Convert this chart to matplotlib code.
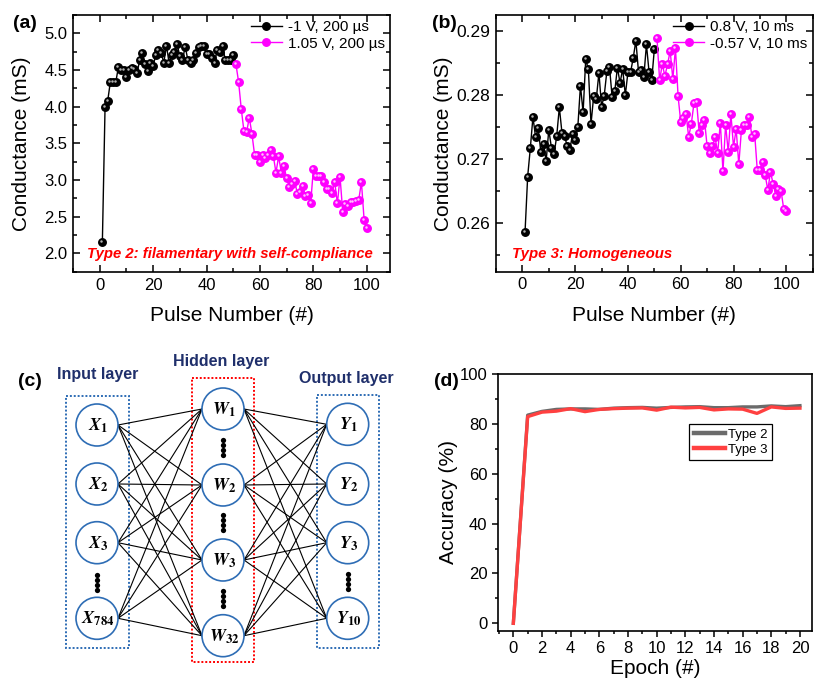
import numpy as np
import matplotlib
matplotlib.use("Agg")
import matplotlib.pyplot as plt
from matplotlib.patches import Circle, Rectangle
from matplotlib.ticker import MultipleLocator, FormatStrFormatter
from matplotlib.transforms import offset_copy

plt.rcParams['font.family'] = ['Liberation Sans', 'DejaVu Sans']
plt.rcParams['mathtext.fontset'] = 'stix'

# ---------------- data ----------------
# (a) Type 2
a_pot_x = list(range(1, 51))
a_pot_y = [2.16, 3.99, 4.08, 4.34, 4.34, 4.33, 4.54, 4.50, 4.50, 4.41,
           4.50, 4.53, 4.51, 4.46, 4.64, 4.73, 4.58, 4.49, 4.60, 4.55,
           4.71, 4.77, 4.73, 4.60, 4.83, 4.59, 4.70, 4.75, 4.85, 4.69,
           4.63, 4.82, 4.64, 4.59, 4.64, 4.73, 4.82, 4.83, 4.83, 4.72,
           4.72, 4.67, 4.60, 4.77, 4.75, 4.83, 4.64, 4.63, 4.64, 4.70]
a_dep_x = list(range(51, 101))
a_dep_y = [4.58, 4.34, 3.97, 3.67, 3.65, 3.85, 3.63, 3.34, 3.34, 3.25,
           3.34, 3.30, 3.34, 3.41, 3.33, 3.10, 3.32, 3.10, 3.19, 3.02,
           2.91, 2.95, 2.99, 2.81, 2.83, 2.92, 2.78, 2.80, 2.68, 3.15,
           3.05, 3.05, 3.05, 2.97, 2.87, 2.87, 2.82, 2.97, 2.68, 3.04,
           2.56, 2.67, 2.65, 2.70, 2.70, 2.71, 2.73, 2.97, 2.46, 2.35]
a_labels = ['-1 V, 200 \u00b5s', '1.05 V, 200 \u00b5s']

# (b) Type 3
b_pot_x = list(range(1, 51))
b_pot_y = [0.2586, 0.2673, 0.2717, 0.2766, 0.2734, 0.2748, 0.2711, 0.2724, 0.2697, 0.2746,
           0.2718, 0.2708, 0.2736, 0.2781, 0.2741, 0.2736, 0.2720, 0.2715, 0.2740, 0.2730,
           0.2750, 0.2815, 0.2773, 0.2856, 0.2840, 0.2755, 0.2798, 0.2794, 0.2835, 0.2782,
           0.2799, 0.2837, 0.2844, 0.2797, 0.2806, 0.2843, 0.2819, 0.2841, 0.2800, 0.2836,
           0.2836, 0.2858, 0.2885, 0.2836, 0.2839, 0.2828, 0.2879, 0.2836, 0.2823, 0.2872]
b_dep_x = list(range(51, 101))
b_dep_y = [0.2889, 0.2823, 0.2848, 0.2830, 0.2848, 0.2869, 0.2825, 0.2873, 0.2798, 0.2758,
           0.2765, 0.2771, 0.2735, 0.2755, 0.2787, 0.2790, 0.2741, 0.2754, 0.2761, 0.2720,
           0.2710, 0.2720, 0.2734, 0.2710, 0.2757, 0.2681, 0.2754, 0.2711, 0.2771, 0.2719,
           0.2747, 0.2692, 0.2746, 0.2753, 0.2753, 0.2766, 0.2734, 0.2740, 0.2683, 0.2683,
           0.2695, 0.2675, 0.2652, 0.2680, 0.2662, 0.2643, 0.2653, 0.2651, 0.2623, 0.2619]
b_labels = ['0.8 V, 10 ms', '-0.57 V, 10 ms']

# (d) accuracy
epochs = list(range(0, 21))
acc_type2 = [0.0, 83.5, 85.0, 85.8, 86.0, 86.0, 85.8, 86.3, 86.5, 86.6, 86.3,
             86.6, 86.8, 86.9, 86.5, 86.5, 86.8, 86.8, 87.2, 86.9, 87.3]
acc_type3 = [0.0, 82.9, 84.7, 85.1, 86.1, 84.9, 85.8, 86.1, 86.3, 86.4, 85.5,
             86.7, 86.4, 86.6, 85.6, 86.0, 85.9, 84.2, 86.8, 86.2, 86.3]
d_labels = ['Type 2', 'Type 3']

# (c) network labels
in_labels = [r'$\boldsymbol{X}_{\mathbf{1}}$', r'$\boldsymbol{X}_{\mathbf{2}}$',
             r'$\boldsymbol{X}_{\mathbf{3}}$', r'$\boldsymbol{X}_{\mathbf{784}}$']
hid_labels = [r'$\boldsymbol{W}_{\mathbf{1}}$', r'$\boldsymbol{W}_{\mathbf{2}}$',
              r'$\boldsymbol{W}_{\mathbf{3}}$', r'$\boldsymbol{W}_{\mathbf{32}}$']
out_labels = [r'$\boldsymbol{Y}_{\mathbf{1}}$', r'$\boldsymbol{Y}_{\mathbf{2}}$',
              r'$\boldsymbol{Y}_{\mathbf{3}}$', r'$\boldsymbol{Y}_{\mathbf{10}}$']

# ---------------- figure ----------------
W, H = 814, 680
fig = plt.figure(figsize=(W / 100, H / 100), dpi=100)


def px_axes(l, t, r, b):
    return fig.add_axes([l / W, 1 - b / H, (r - l) / W, (b - t) / H])


TICK_FS = 12
LAB_FS = 15
MAG = '#ff00ff'


def style_inout(ax):
    for s in ax.spines.values():
        s.set_linewidth(1.2)
    ax.tick_params(which='both', direction='in', top=True, right=True,
                   labelsize=TICK_FS, width=1.1, pad=4)
    ax.tick_params(which='major', length=5)
    ax.tick_params(which='minor', length=3)


def balls(ax, x, y, color, hl, lw=1.0):
    line, = ax.plot(x, y, '-o', color=color, lw=lw, ms=5.4,
                    mec=color, mfc=color, zorder=3)
    tr = offset_copy(ax.transData, fig=fig, x=-1.0, y=1.0, units='dots')
    ax.plot(x, y, 'o', ms=1.8, color=hl, mec='none', transform=tr, zorder=4)
    return line


# ---- (a)
axa = px_axes(73, 15, 390, 272)
la1 = balls(axa, a_pot_x, a_pot_y, 'black', '#b0b0b0')
la2 = balls(axa, a_dep_x, a_dep_y, MAG, '#ffc0ff')
axa.set_xlim(-10, 108.7)
axa.set_ylim(1.744, 5.25)
axa.xaxis.set_major_locator(MultipleLocator(20))
axa.xaxis.set_minor_locator(MultipleLocator(10))
axa.yaxis.set_major_locator(MultipleLocator(0.5))
axa.yaxis.set_minor_locator(MultipleLocator(0.25))
axa.yaxis.set_major_formatter(FormatStrFormatter('%.1f'))
style_inout(axa)
axa.set_xlabel('Pulse Number (#)', fontsize=LAB_FS)
axa.set_ylabel('Conductance (mS)', fontsize=LAB_FS)
axa.xaxis.set_label_coords(0.5, -(306 - 272) / 257)
axa.yaxis.set_label_coords(-(73 - 31) / 317, 0.5)
axa.legend([la1, la2], a_labels, loc='upper right', frameon=False,
           fontsize=11, borderaxespad=0.25, borderpad=0.1, handlelength=2.0,
           handletextpad=0.4, labelspacing=0.15)
axa.text(0.045, 0.07, 'Type 2: filamentary with self-compliance', transform=axa.transAxes,
         color='red', fontsize=10.7, fontweight='bold', fontstyle='italic',
         ha='left', va='center')

# ---- (b)
axb = px_axes(496, 15, 812.7, 271.7)
lb1 = balls(axb, b_pot_x, b_pot_y, 'black', '#b0b0b0')
lb2 = balls(axb, b_dep_x, b_dep_y, MAG, '#ffc0ff')
axb.set_xlim(-10, 110)
axb.set_ylim(0.25245, 0.2925)
axb.xaxis.set_major_locator(MultipleLocator(20))
axb.xaxis.set_minor_locator(MultipleLocator(10))
axb.yaxis.set_major_locator(MultipleLocator(0.01))
axb.yaxis.set_minor_locator(MultipleLocator(0.005))
axb.yaxis.set_major_formatter(FormatStrFormatter('%.2f'))
style_inout(axb)
axb.tick_params(axis='y', labelsize=12.5)
axb.set_xlabel('Pulse Number (#)', fontsize=LAB_FS)
axb.set_ylabel('Conductance (mS)', fontsize=LAB_FS)
axb.xaxis.set_label_coords(0.5, -(306 - 271.7) / 256.7)
axb.yaxis.set_label_coords(-(496 - 453) / 316.7, 0.5)
axb.legend([lb1, lb2], b_labels, loc='upper right', frameon=False,
           fontsize=11, borderaxespad=0.25, borderpad=0.1, handlelength=2.0,
           handletextpad=0.4, labelspacing=0.15)
axb.text(0.05, 0.07, 'Type 3: Homogeneous', transform=axb.transAxes,
         color='red', fontsize=10.8, fontweight='bold', fontstyle='italic',
         ha='left', va='center')

# ---- (d)
axd = px_axes(498, 374, 811.7, 630.7)
axd.plot(epochs, acc_type2, color='#6b6b6b', lw=2.4, label=d_labels[0], zorder=3)
axd.plot(epochs, acc_type3, color='#ff4040', lw=2.4, label=d_labels[1], zorder=4)
axd.set_xlim(-1.07, 20.82)
axd.set_ylim(-2.97, 100)
axd.xaxis.set_major_locator(MultipleLocator(2))
axd.xaxis.set_minor_locator(MultipleLocator(1))
axd.yaxis.set_major_locator(MultipleLocator(20))
axd.yaxis.set_minor_locator(MultipleLocator(10))
for s in axd.spines.values():
    s.set_linewidth(1.2)
axd.tick_params(which='both', direction='out', labelsize=TICK_FS, width=1.1, pad=3)
axd.tick_params(which='major', length=4.5)
axd.tick_params(which='minor', length=2.5)
axd.set_xlabel('Epoch (#)', fontsize=LAB_FS)
axd.set_ylabel('Accuracy (%)', fontsize=LAB_FS)
axd.xaxis.set_label_coords(0.5, -(659 - 630.7) / 256.7)
axd.yaxis.set_label_coords(-(498 - 458) / 313.7, 0.5)
leg = axd.legend(loc='upper left', bbox_to_anchor=(0.609, 0.805), fontsize=9.5,
                 frameon=True, fancybox=False, edgecolor='black', framealpha=1,
                 borderaxespad=0, borderpad=0.35, handlelength=2.4,
                 handletextpad=0.2, labelspacing=0.2)
leg.get_frame().set_linewidth(0.9)
for h in leg.get_lines():
    h.set_linewidth(3.2)

# ---- (c) network diagram in pixel coordinates
axc = fig.add_axes([0, 0, 420 / W, 340 / H])
axc.set_xlim(0, 420)
axc.set_ylim(680, 340)
axc.axis('off')

R = 21
BLUE = '#2e6db5'
NAVY = '#1f2f6b'
x_in, x_hid, x_out = 97, 223, 347.7
y_in = [425, 484, 542.7, 618.3]
y_hid = [409, 485, 560, 635.7]
y_out = [424.3, 484, 542.7, 618.3]

for yi in y_in:
    for yh in y_hid:
        axc.plot([x_in + R, x_hid - R], [yi, yh], color='black', lw=0.8, zorder=2)
for yh in y_hid:
    for yo in y_out:
        axc.plot([x_hid + R, x_out - R], [yh, yo], color='black', lw=0.8, zorder=2)

for xc, ys, labs in [(x_in, y_in, in_labels), (x_hid, y_hid, hid_labels),
                     (x_out, y_out, out_labels)]:
    for yc, lab in zip(ys, labs):
        axc.add_patch(Circle((xc, yc), R, facecolor='white', edgecolor=BLUE,
                             lw=1.2, zorder=3))
        axc.text(xc + 1, yc + 1, lab, ha='center', va='center', fontsize=13, zorder=4)

# vertical dots
for xc, yc in [(x_in, 582), (x_hid, 447), (x_hid, 522.5), (x_hid, 598.5), (x_out, 581.5)]:
    axc.plot([xc] * 4, [yc - 7.5, yc - 2.5, yc + 2.5, yc + 7.5], 'o', color='black',
             ms=3.8, mec='none', zorder=4)

# dotted boxes
axc.add_patch(Rectangle((66, 396), 63, 252, fill=False, edgecolor=BLUE, lw=1.4,
                        ls=(0, (1, 1)), zorder=1))
axc.add_patch(Rectangle((191.7, 378), 62.3, 284, fill=False, edgecolor='red', lw=1.4,
                        ls=(0, (1, 1)), zorder=1))
axc.add_patch(Rectangle((316.7, 395), 62.3, 253, fill=False, edgecolor=BLUE, lw=1.4,
                        ls=(0, (1, 1)), zorder=1))

axc.text(98, 375, 'Input layer', ha='center', va='center', color=NAVY,
         fontsize=11.5, fontweight='bold')
axc.text(220.7, 361.7, 'Hidden layer', ha='center', va='center', color=NAVY,
         fontsize=11.5, fontweight='bold')
axc.text(346.7, 378, 'Output layer', ha='center', va='center', color=NAVY,
         fontsize=11.5, fontweight='bold')

# panel letters
for lab, (x, y) in [('(a)', (25, 24)), ('(b)', (444, 24)), ('(c)', (30, 382)), ('(d)', (446, 382))]:
    fig.text(x / W, 1 - y / H, lab, ha='center', va='center', fontsize=14, fontweight='bold')

fig.savefig('out.png', dpi=100)
